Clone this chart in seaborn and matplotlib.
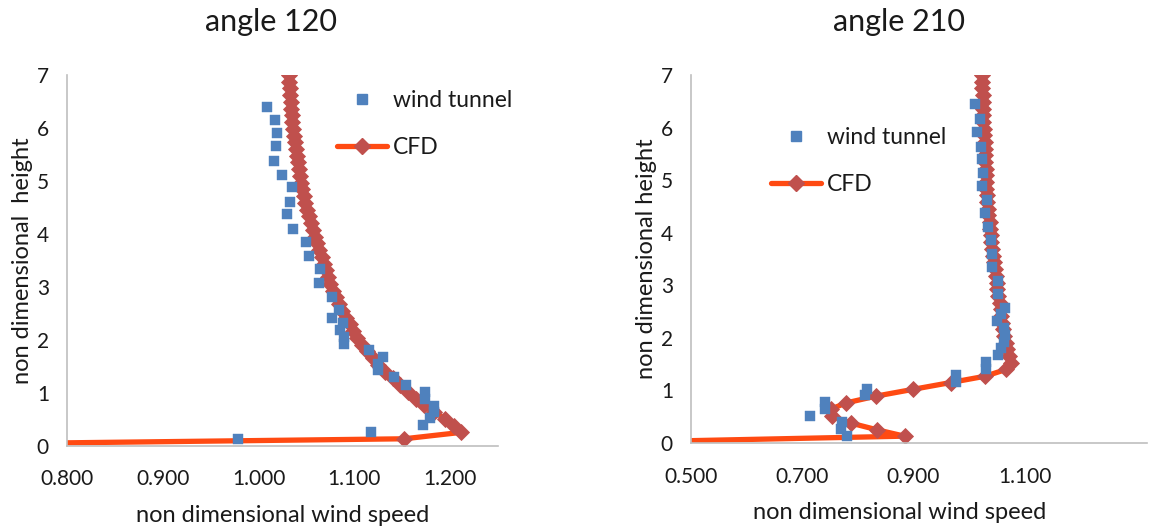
import matplotlib
matplotlib.use("Agg")
import matplotlib.pyplot as plt
import seaborn as sns
import pandas as pd
from matplotlib.lines import Line2D

# ---------------- data ----------------
# angle 120 - wind tunnel
wt120_speed = [1.009, 1.017, 1.019, 1.018, 1.016, 1.024, 1.035, 1.033, 1.030, 1.036,
               1.050, 1.053, 1.064, 1.063, 1.077, 1.084, 1.077, 1.088, 1.085, 1.089,
               1.089, 1.115, 1.130, 1.125, 1.125, 1.141, 1.154, 1.174, 1.174, 1.183,
               1.183, 1.179, 1.172, 1.117, 0.979]
wt120_height = [6.40, 6.15, 5.90, 5.65, 5.38, 5.12, 4.88, 4.61, 4.37, 4.10,
                3.85, 3.59, 3.33, 3.08, 2.81, 2.57, 2.42, 2.31, 2.18, 2.05,
                1.92, 1.81, 1.68, 1.54, 1.42, 1.29, 1.15, 1.02, 0.89, 0.74,
                0.64, 0.53, 0.39, 0.25, 0.13]

# angle 210 - wind tunnel
wt210_speed = [1.011, 1.019, 1.015, 1.022, 1.024, 1.026, 1.024, 1.032, 1.028, 1.034,
               1.040, 1.041, 1.042, 1.053, 1.053, 1.065, 1.058, 1.051, 1.063, 1.064,
               1.063, 1.058, 1.053, 1.030, 1.030, 0.977, 0.977, 0.817, 0.813, 0.741,
               0.741, 0.714, 0.772, 0.769, 0.780]
wt210_height = [6.44, 6.16, 5.92, 5.64, 5.40, 5.14, 4.89, 4.62, 4.38, 4.11,
                3.86, 3.59, 3.35, 3.08, 2.84, 2.57, 2.45, 2.33, 2.18, 2.05,
                1.92, 1.81, 1.67, 1.54, 1.41, 1.29, 1.16, 1.03, 0.92, 0.78,
                0.65, 0.51, 0.40, 0.27, 0.13]

# CFD heights (shared)
cfd_height = [0.00, 0.13, 0.25, 0.38, 0.51, 0.64, 0.76, 0.89, 1.02, 1.15,
              1.27, 1.40, 1.53, 1.65, 1.78, 1.91, 2.04, 2.16, 2.29, 2.42,
              2.55, 2.67, 2.80, 2.93, 3.05, 3.18, 3.31, 3.44, 3.56, 3.69,
              3.82, 3.95, 4.07, 4.20, 4.33, 4.45, 4.58, 4.71, 4.84, 4.96,
              5.09, 5.22, 5.35, 5.47, 5.60, 5.73, 5.85, 5.98, 6.11, 6.24,
              6.36, 6.49, 6.62, 6.75, 6.87, 7.00]
cfd120_speed = [0.55, 1.152, 1.211, 1.204, 1.195, 1.183, 1.173, 1.164, 1.156, 1.148,
                1.140, 1.132, 1.125, 1.119, 1.113, 1.108, 1.103, 1.099, 1.095, 1.091,
                1.087, 1.084, 1.081, 1.078, 1.075, 1.073, 1.070, 1.068, 1.066, 1.063,
                1.061, 1.059, 1.057, 1.055, 1.053, 1.051, 1.049, 1.047, 1.045, 1.044,
                1.043, 1.042, 1.041, 1.040, 1.039, 1.038, 1.037, 1.036, 1.035, 1.035,
                1.034, 1.034, 1.033, 1.033, 1.032, 1.032]
cfd210_speed = [0.30, 0.884, 0.835, 0.787, 0.754, 0.751, 0.778, 0.832, 0.899, 0.967,
                1.029, 1.067, 1.076, 1.072, 1.068, 1.066, 1.063, 1.061, 1.059, 1.058,
                1.057, 1.055, 1.053, 1.051, 1.050, 1.048, 1.047, 1.045, 1.043, 1.042,
                1.040, 1.039, 1.038, 1.037, 1.035, 1.034, 1.033, 1.032, 1.031, 1.031,
                1.030, 1.030, 1.029, 1.029, 1.028, 1.028, 1.027, 1.027, 1.026, 1.026,
                1.025, 1.025, 1.025, 1.024, 1.024, 1.024]

titles = ["angle 120", "angle 210"]
ylabels = ["non dimensional  height", "non dimensional height"]
xlabel = "non dimensional wind speed"
yticks = [0, 1, 2, 3, 4, 5, 6, 7]
xticks120 = [0.8, 0.9, 1.0, 1.1, 1.2]
xticks210 = [0.5, 0.7, 0.9, 1.1]

# ---------------- style ----------------
sns.set_theme(style="white")
plt.rcParams["font.family"] = ["Lato", "DejaVu Sans"]
TXT = "#1a1a1a"
BLUE = "#4F81BD"
DIAM = "#C0504D"
LINE = "#FF4A12"
SPINE = "#BFBFBF"

fig = plt.figure(figsize=(11.49, 5.26), dpi=100)
ax1 = fig.add_axes([0.0583, 0.1527, 0.3751, 0.7047])
ax2 = fig.add_axes([0.6014, 0.1578, 0.3968, 0.6996])

# (axes, wt speed, wt height, cfd speed, xlim, xticks, legend anchor,
#  title x, xlabel x, index)
panels = [
    (ax1, wt120_speed, wt120_height, cfd120_speed, (0.8, 1.25), xticks120,
     (0.626, 0.96), 0.473, 0.501, 0),
    (ax2, wt210_speed, wt210_height, cfd210_speed, (0.5, 1.32), xticks210,
     (0.175, 0.86), 0.456, 0.458, 1),
]

for ax, ws, wh, cs, xlim, xt, legpos, tx, lx, i in panels:
    df_wt = pd.DataFrame({"speed": ws, "height": wh})
    df_cfd = pd.DataFrame({"speed": cs, "height": cfd_height})

    sns.lineplot(data=df_cfd, x="speed", y="height", sort=False, estimator=None,
                 ax=ax, color=LINE, linewidth=3.8, marker="D", markersize=8,
                 markerfacecolor=DIAM, markeredgecolor=DIAM, markeredgewidth=0.6,
                 zorder=2)
    sns.scatterplot(data=df_wt, x="speed", y="height", ax=ax, marker="s", s=55,
                    color=BLUE, edgecolor=BLUE, linewidth=0.3, zorder=3)

    ax.set_xlim(*xlim)
    ax.set_ylim(0, 7)
    ax.set_xticks(xt)
    ax.set_xticklabels([f"{v:.3f}" for v in xt])
    ax.set_yticks(yticks)
    ax.set_yticklabels([str(v) for v in yticks])
    ax.tick_params(axis="both", length=0, labelsize=15, colors=TXT)
    ax.tick_params(axis="x", pad=17)
    ax.tick_params(axis="y", pad=13)

    for s in ["top", "right"]:
        ax.spines[s].set_visible(False)
    for s in ["left", "bottom"]:
        ax.spines[s].set_color(SPINE)
        ax.spines[s].set_linewidth(1.2)

    ax.set_xlabel(xlabel, fontsize=17, color=TXT, labelpad=11, x=lx)
    ax.set_ylabel(ylabels[i], fontsize=17, color=TXT, labelpad=3)
    ax.set_title(titles[i], fontsize=22, color=TXT, pad=32, x=tx)

    h_wt = Line2D([], [], linestyle="none", marker="s", markersize=7.2,
                  color=BLUE)
    h_cfd = Line2D([], [], color=LINE, linewidth=3.8, marker="D", markersize=8,
                   markerfacecolor=DIAM, markeredgecolor=DIAM)
    leg = ax.legend([h_wt, h_cfd], ["wind tunnel", "CFD"], loc="upper left",
                    bbox_to_anchor=legpos, frameon=False, fontsize=16.5,
                    handlelength=2.2, handletextpad=0.25, labelspacing=1.15,
                    borderpad=0, borderaxespad=0, numpoints=1)
    for t in leg.get_texts():
        t.set_color(TXT)

fig.savefig("out.png", dpi=100)
